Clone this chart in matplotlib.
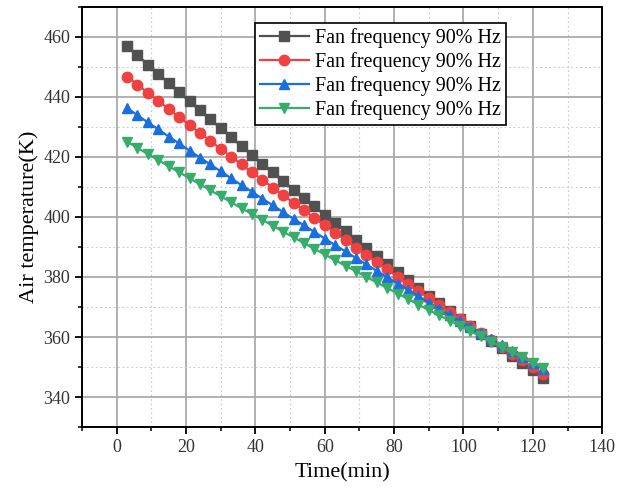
import matplotlib
matplotlib.use("Agg")
import matplotlib.pyplot as plt
from matplotlib.ticker import MultipleLocator

time_min = list(range(3, 124, 3))
labels = ["Fan frequency 90% Hz"] * 4

black = [457.0, 453.9, 450.8, 447.7, 444.6, 441.5, 438.5, 435.5, 432.5, 429.5,
         426.5, 423.6, 420.6, 417.7, 414.9, 412.0, 409.1, 406.3, 403.5, 400.7,
         397.9, 395.2, 392.4, 389.7, 387.0, 384.4, 381.7, 379.1, 376.4, 373.8,
         371.3, 368.7, 366.1, 363.6, 361.1, 358.6, 356.2, 353.7, 351.3, 348.9, 346.5]
red = [446.8, 444.1, 441.4, 438.7, 436.0, 433.3, 430.6, 428.0, 425.4, 422.7,
       420.1, 417.5, 414.9, 412.4, 409.8, 407.3, 404.7, 402.2, 399.7, 397.2,
       394.7, 392.3, 389.8, 387.4, 384.9, 382.5, 380.1, 377.7, 375.3, 373.0,
       370.6, 368.3, 366.0, 363.6, 361.3, 359.0, 356.8, 354.5, 352.3, 350.0, 347.8]
blue = [436.3, 433.9, 431.5, 429.2, 426.8, 424.5, 422.1, 419.8, 417.5, 415.2,
        412.9, 410.6, 408.4, 406.1, 403.9, 401.6, 399.4, 397.2, 395.0, 392.8,
        390.6, 388.5, 386.3, 384.2, 382.0, 379.9, 377.8, 375.7, 373.6, 371.5,
        369.4, 367.4, 365.3, 363.3, 361.3, 359.2, 357.2, 355.2, 353.3, 351.3, 349.3]
green = [425.1, 423.0, 421.0, 418.9, 416.9, 414.9, 412.9, 410.9, 408.9, 406.9,
         404.9, 402.9, 401.0, 399.0, 397.1, 395.1, 393.2, 391.3, 389.4, 387.5,
         385.6, 383.7, 381.9, 380.0, 378.2, 376.3, 374.5, 372.7, 370.8, 369.0,
         367.2, 365.5, 363.7, 361.9, 360.2, 358.4, 356.7, 354.9, 353.2, 351.5, 349.8]

series = [black, red, blue, green]
colors = ["#515151", "#F14040", "#1A6FDF", "#37AD6B"]
markers = ["s", "o", "^", "v"]
msizes = [6.8, 7.5, 7.8, 7.8]

plt.rcParams['font.family'] = ['Liberation Serif', 'DejaVu Serif']

fig = plt.figure(figsize=(6.26, 4.92), dpi=100)
ax = fig.add_axes([0.131, 0.132, 0.831, 0.854])

for vals, c, m, ms, lab in zip(series, colors, markers, msizes, labels):
    ax.plot(time_min, vals, color=c, marker=m, markersize=ms, linewidth=1.6,
            label=lab, zorder=3)

ax.set_xlim(-10, 140)
ax.set_ylim(330, 470)
ax.xaxis.set_major_locator(MultipleLocator(20))
ax.xaxis.set_minor_locator(MultipleLocator(10))
ax.yaxis.set_major_locator(MultipleLocator(20))
ax.yaxis.set_minor_locator(MultipleLocator(10))

ax.grid(which='major', color='#aaaaaa', linewidth=1.3, linestyle='-', zorder=0)
ax.grid(which='minor', color='#c8c8c8', linewidth=0.8, linestyle=(0, (1.5, 2.5)), zorder=0)
ax.set_axisbelow(True)

ax.tick_params(which='major', direction='out', length=5, width=1.3, labelsize=13, colors='black')
ax.tick_params(which='minor', direction='out', length=3, width=1.1)
for sp in ax.spines.values():
    sp.set_linewidth(1.4)
    sp.set_color('black')
for lab in ax.get_xticklabels() + ax.get_yticklabels():
    lab.set_color('#333333')

ax.set_xlabel("Time(min)", fontsize=16, labelpad=5)
ax.set_ylabel("Air temperature(K)", fontsize=16, labelpad=3)

leg = ax.legend(loc='upper left', bbox_to_anchor=(0.333, 0.962), fontsize=14.5,
                frameon=True, fancybox=False, edgecolor='black', framealpha=1,
                handlelength=2.4, borderpad=0.25, labelspacing=0.2,
                handletextpad=0.3, borderaxespad=0)
leg.get_frame().set_linewidth(1.2)

fig.savefig("out.png", dpi=100)
